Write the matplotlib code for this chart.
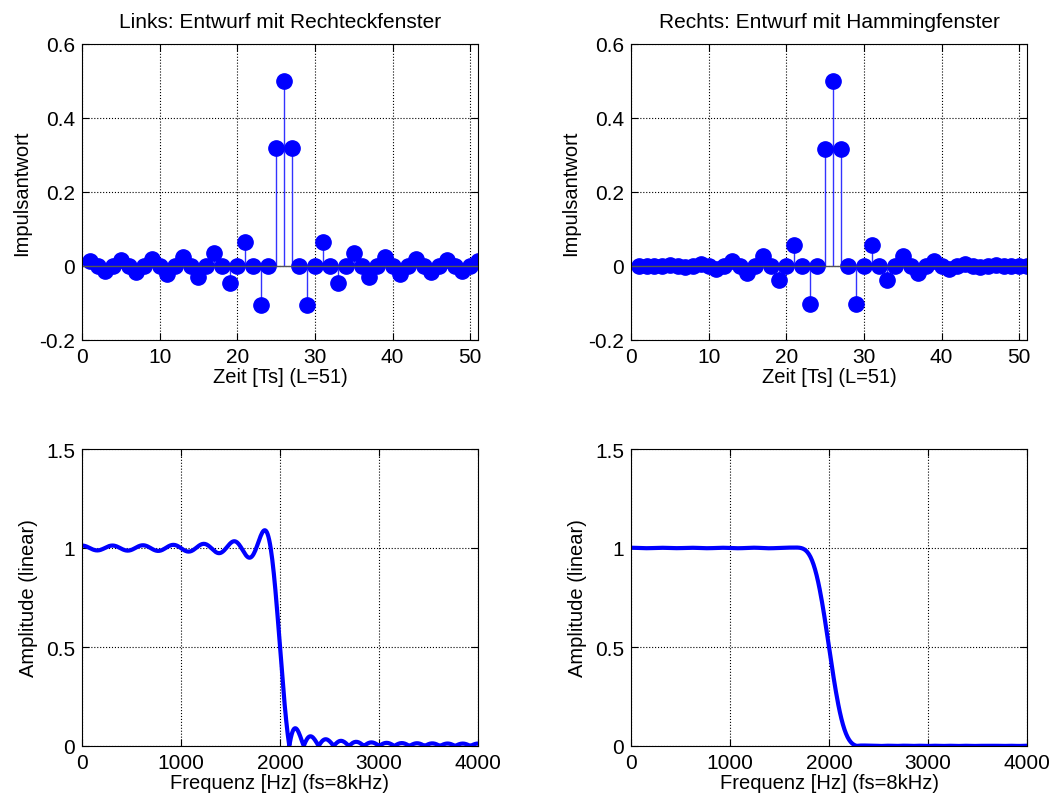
import numpy as np
import matplotlib.pyplot as plt

plt.rcParams['font.family'] = ['Liberation Sans', 'DejaVu Sans']

# impulse responses, n = 1..51 (read from the stems)
n = np.arange(1, 52)
h_rect = [0.0127, 0, -0.0138, 0, 0.0152, 0, -0.0168, 0, 0.0187, 0,
          -0.0212, 0, 0.0245, 0, -0.0289, 0, 0.0354, 0, -0.0455, 0,
          0.0637, 0, -0.1061, 0, 0.3183, 0.5, 0.3183, 0, -0.1061, 0,
          0.0637, 0, -0.0455, 0, 0.0354, 0, -0.0289, 0, 0.0245, 0,
          -0.0212, 0, 0.0187, 0, -0.0168, 0, 0.0152, 0, -0.0138, 0,
          0.0127]
h_hamm = [0.0010, 0, -0.0013, 0, 0.0021, 0, -0.0034, 0, 0.0055, 0,
          -0.0084, 0, 0.0125, 0, -0.0181, 0, 0.0260, 0, -0.0379, 0,
          0.0581, 0, -0.1027, 0, 0.3172, 0.5, 0.3172, 0, -0.1027, 0,
          0.0581, 0, -0.0379, 0, 0.0260, 0, -0.0181, 0, 0.0125, 0,
          -0.0084, 0, 0.0055, 0, -0.0034, 0, 0.0021, 0, -0.0013, 0,
          0.0010]
fs = 8000
titles = ['Links: Entwurf mit Rechteckfenster', 'Rechts: Entwurf mit Hammingfenster']

fig = plt.figure(figsize=(10.61, 8.03), dpi=100)
W, H = 1061, 803
def add_ax(x0, y0, x1, y1):
    return fig.add_axes([x0 / W, 1 - y1 / H, (x1 - x0) / W, (y1 - y0) / H])

def style(ax):
    ax.grid(True, color='black', linestyle=':', linewidth=0.8)
    ax.tick_params(direction='in', top=True, right=True, labelsize=15, length=5, pad=5)
    for s in ax.spines.values():
        s.set_linewidth(0.8)

lefts = [82, 631]
for col, h in enumerate([h_rect, h_hamm]):
    x0 = lefts[col]
    ax = add_ax(x0, 45, x0 + 396, 341)
    ml, sl, bl = ax.stem(n, h, linefmt='-', markerfmt='o', basefmt='-')
    plt.setp(sl, color='#3333ff', linewidth=1.0)
    plt.setp(ml, color='#0000ff', markersize=11)
    plt.setp(bl, color='#555555', linewidth=1.0)
    bl.set_xdata([0, 51])
    ax.set_xlim(0, 51)
    ax.set_ylim(-0.2, 0.6)
    ax.set_xticks([0, 10, 20, 30, 40, 50])
    ax.set_yticks([-0.2, 0, 0.2, 0.4, 0.6])
    ax.set_yticklabels(['-0.2', '0', '0.2', '0.4', '0.6'])
    ax.set_title(titles[col], fontsize=15, pad=12)
    ax.set_xlabel('Zeit [Ts] (L=51)', fontsize=14.5, labelpad=1)
    ax.set_ylabel('Impulsantwort', fontsize=14.5, labelpad=6)
    style(ax)

    # amplitude response from the impulse response
    Hf = np.abs(np.fft.fft(h, 1024))[:513]
    f = np.arange(513) * fs / 1024
    ax2 = add_ax(x0, 450, x0 + 396, 747)
    ax2.plot(f, Hf, color='#0000ff', linewidth=3.0)
    ax2.set_xlim(0, 4000)
    ax2.set_ylim(0, 1.5)
    ax2.set_xticks([0, 1000, 2000, 3000, 4000])
    ax2.set_yticks([0, 0.5, 1, 1.5])
    ax2.set_yticklabels(['0', '0.5', '1', '1.5'])
    ax2.set_xlabel('Frequenz [Hz] (fs=8kHz)', fontsize=14.5, labelpad=1)
    ax2.set_ylabel('Amplitude (linear)', fontsize=14.5, labelpad=6)
    style(ax2)

fig.savefig('out.png', dpi=100)
